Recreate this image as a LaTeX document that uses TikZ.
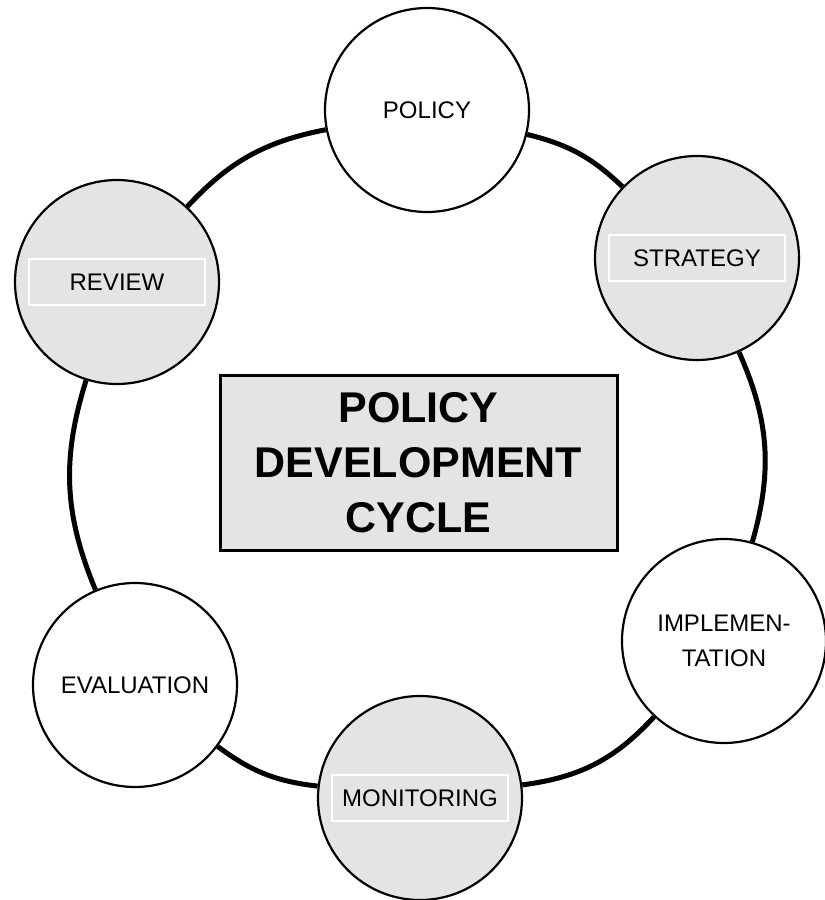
\documentclass[tikz,border=0pt]{standalone}
\usepackage{fontspec}
\setmainfont{Liberation Sans}
\usetikzlibrary{arrows,calc}

\definecolor{cyclegrey}{HTML}{E4E4E4}

\tikzset{
  stage/.style={circle, draw=black, line width=2.2pt, fill=white,
    minimum size=204pt, inner sep=0pt, align=center,
    font=\fontsize{24}{35}\selectfont},
  stagegrey/.style={stage, fill=cyclegrey,
    path picture={\draw[white, line width=2.5pt]
      ([xshift=-88pt,yshift=-23pt]path picture bounding box.center)
      rectangle ++(176pt,46pt);}},
  link/.style={line width=5pt}
}

\begin{document}
\begin{tikzpicture}[x=1pt,y=-1pt]

  \useasboundingbox (0,0) rectangle (825,900);

  % the six stages round the cycle
  \node[stage]     (policy)   at (427,110) {POLICY};
  \node[stagegrey] (strategy) at (697,258) {STRATEGY};
  \node[stage]     (implem)   at (724,641) {IMPLEMEN-\\TATION};
  \node[stagegrey] (monitor)  at (420,798) {MONITORING};
  \node[stage]     (evaluate) at (135,685) {EVALUATION};
  \node[stagegrey] (review)   at (117,282) {REVIEW};

  % title in the middle
  \node[draw, line width=3pt, fill=cyclegrey, minimum width=397pt,
    minimum height=175pt, align=center,
    font=\fontsize{43}{55}\selectfont\bfseries] (title) at (418.5,462.5)
    {POLICY\\DEVELOPMENT\\CYCLE};

  % thick arcs between the stages
  \draw[link] (policy)   to[bend left=15] (strategy);
  \draw[link] (strategy) to[bend left=20] (implem);
  \draw[link] (implem)   to[bend left=20] (monitor);
  \draw[link] (monitor)  to[bend left=15] (evaluate);
  \draw[link] (evaluate) to[bend left=20] (review);
  \draw[link] (review)   to[bend left=18] (policy);

\end{tikzpicture}
\end{document}
